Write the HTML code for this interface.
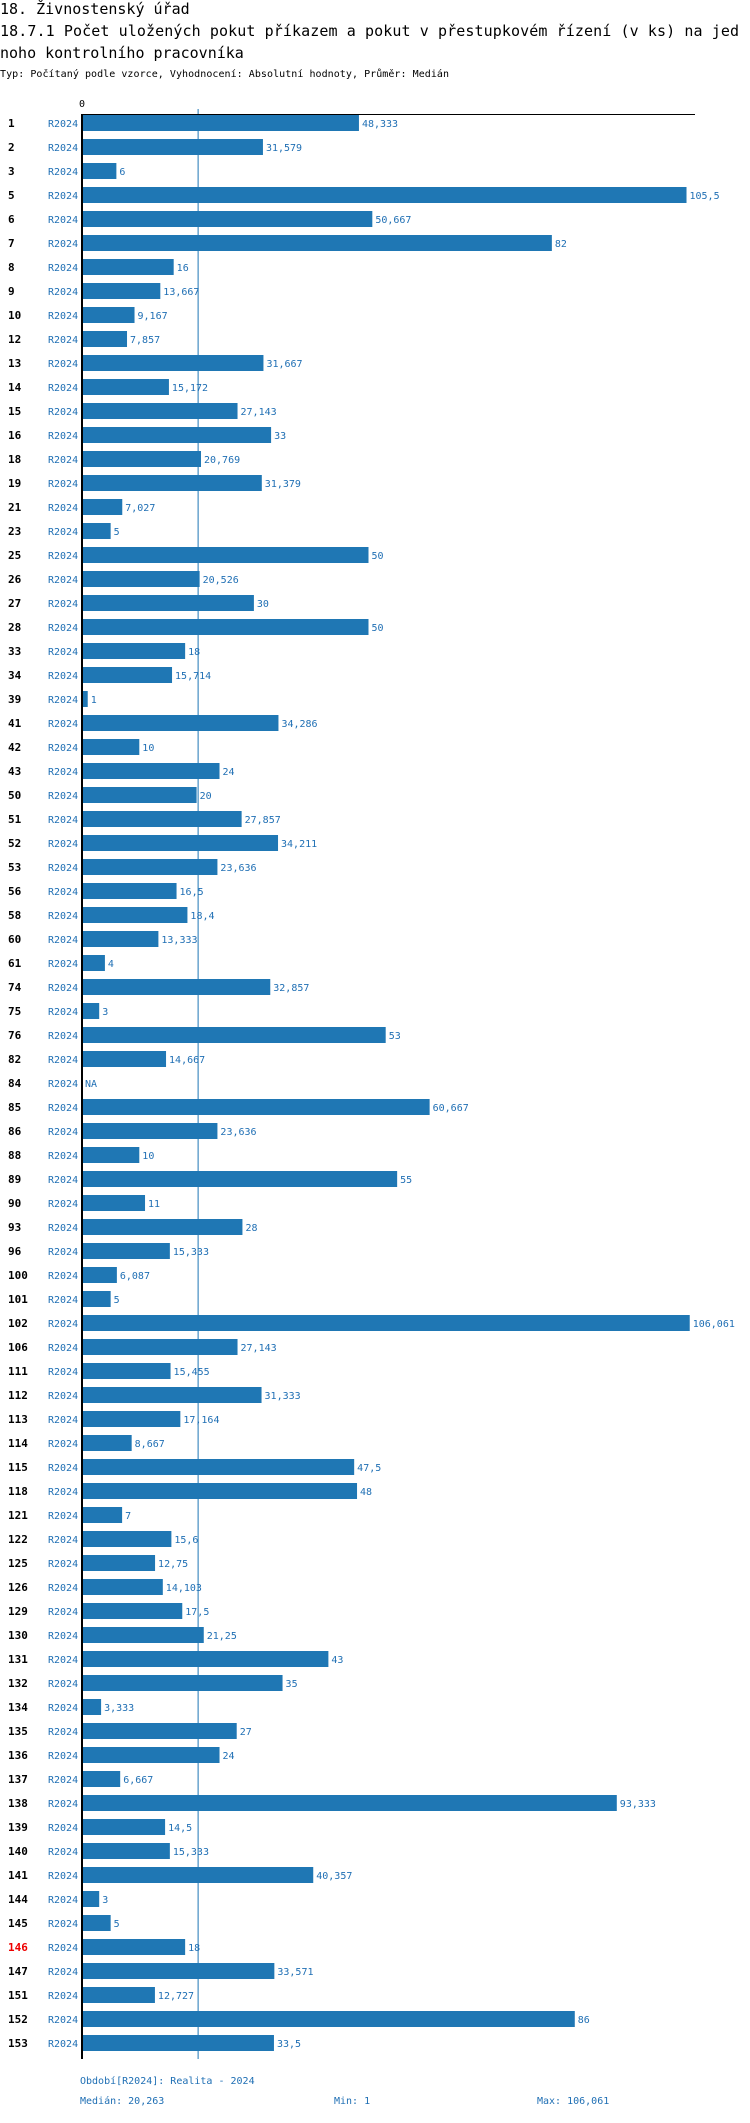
<!DOCTYPE html>
<html><head><meta charset="utf-8"><style>
body{margin:0;background:#fff;width:750px;height:2118px;overflow:hidden}
svg text{font-family:"DejaVu Sans Mono","Liberation Mono",monospace}
</style></head><body>
<svg id="chart" width="750" height="2118" xmlns="http://www.w3.org/2000/svg">
<text x="0" y="14" font-size="15" fill="#000">18. Živnostenský úřad</text>
<text x="0" y="36" font-size="15" fill="#000" textLength="739">18.7.1 Počet uložených pokut příkazem a pokut v přestupkovém řízení (v ks) na jed</text>
<text x="0" y="58" font-size="15" fill="#000">noho kontrolního pracovníka</text>
<text x="0" y="77" font-size="10" fill="#000" textLength="449">Typ: Počítaný podle vzorce, Vyhodnocení: Absolutní hodnoty, Průměr: Medián</text>
<text x="82" y="107" font-size="10" fill="#000" text-anchor="middle">0</text>
<g id="marks"></g>
<text x="80" y="2084" font-size="10" fill="#1f6fb4">Období[R2024]: Realita - 2024</text>
<text x="80" y="2104" font-size="10" fill="#1f6fb4">Medián: 20,263</text>
<text x="334" y="2104" font-size="10" fill="#1f6fb4">Min: 1</text>
<text x="537" y="2104" font-size="10" fill="#1f6fb4">Max: 106,061</text>
</svg>
<script>
const categories=[1,2,3,5,6,7,8,9,10,12,13,14,15,16,18,19,21,23,25,26,27,28,33,34,39,41,42,43,50,51,52,53,56,58,60,61,74,75,76,82,84,85,86,88,89,90,93,96,100,101,102,106,111,112,113,114,115,118,121,122,125,126,129,130,131,132,134,135,136,137,138,139,140,141,144,145,146,147,151,152,153];
const values=[48.333,31.579,6,105.5,50.667,82,16,13.667,9.167,7.857,31.667,15.172,27.143,33,20.769,31.379,7.027,5,50,20.526,30,50,18,15.714,1,34.286,10,24,20,27.857,34.211,23.636,16.5,18.4,13.333,4,32.857,3,53,14.667,null,60.667,23.636,10,55,11,28,15.333,6.087,5,106.061,27.143,15.455,31.333,17.164,8.667,47.5,48,7,15.6,12.75,14.103,17.5,21.25,43,35,3.333,27,24,6.667,93.333,14.5,15.333,40.357,3,5,18,33.571,12.727,86,33.5];
const highlighted=[146];
const medianValue=20.263;
const NS="http://www.w3.org/2000/svg";
const x0=82,scale=5.73,y0=123,pitch=24;
function xs(v){return x0+v*scale;}
function ys(i){return y0+i*pitch;}
const g=document.getElementById('marks');
function mk(t,a){const e=document.createElementNS(NS,t);for(const k in a)e.setAttribute(k,a[k]);g.appendChild(e);return e;}
const last=ys(categories.length-1);
const ml=mk('line',{x1:xs(medianValue),x2:xs(medianValue),y1:109,y2:last+16,stroke:'#1f77b4','stroke-width':1});


categories.forEach((c,i)=>{
  const y=ys(i),v=values[i];
  const n=mk('text',{x:8,y:y+4,'font-size':11,'font-weight':'bold',fill:highlighted.includes(c)?'#e00':'#000'});
  n.textContent=c;
  
  
  const p=mk('text',{x:48,y:y+4,'font-size':10,fill:'#1f6fb4'});
  p.textContent='R2024';
  
  
  let end=x0;
  if(v!==null){
    const r=mk('rect',{x:x0,y:y-8,width:xs(v)-x0,height:16,fill:'#1f77b4'});
    
    
    end=xs(v);
  }
  const t=mk('text',{x:end+3,y:y+4,'font-size':10,fill:'#1f6fb4'});
  t.textContent=v===null?'NA':String(v).replace('.',',');
  
  
});
const ax=mk('line',{x1:x0,x2:x0,y1:114,y2:last+16,stroke:'#000','stroke-width':2});


const tx=mk('line',{x1:x0,x2:695,y1:114.5,y2:114.5,stroke:'#000','stroke-width':1});


</script>
</body></html>
